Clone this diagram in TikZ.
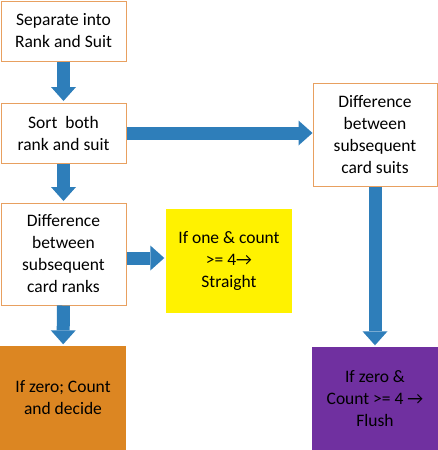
\documentclass[tikz,border=0pt]{standalone}
\usepackage{fontspec}
\setmainfont{Carlito}
\usetikzlibrary{arrows.meta}
\definecolor{arrowblue}{RGB}{46,126,186}
\definecolor{boxline}{RGB}{232,160,96}
\definecolor{zeroorange}{RGB}{220,134,34}
\definecolor{flushpurple}{RGB}{112,48,160}
\tikzset{
  step box/.style = {draw=boxline, line width=1pt, fill=white, align=center,
    inner sep=0pt, minimum width=125pt},
  result box/.style = {fill=#1, align=center, inner sep=0pt,
    minimum width=126pt, minimum height=104pt},
  flow/.style = {draw=arrowblue, line width=13pt,
    -{Triangle[width=25pt,length=14pt,line width=0pt]}, shorten >=1.5pt}
}
\newcommand{\rarr}{→}

\begin{document}
\begin{tikzpicture}[x=1pt,y=-1pt,font=\fontsize{17.5}{22}\selectfont]
    \useasboundingbox (0,0) rectangle (438,450);
    % left column
    \node[step box, minimum height=60pt] (sep) at (63.5,31) {Separate into\\Rank and Suit};
    \node[step box, minimum height=60pt] (sort) at (63.5,133) {Sort~~both\\rank and suit};
    \node[step box, minimum height=102pt] (ranks) at (63.5,254) {Difference\\between\\subsequent\\card ranks};
    \node[result box=zeroorange] (zero) at (63,398) {If zero; Count\\and decide};
    % middle and right
    \node[result box=yellow] (straight) at (229,261) {If one \& count\\>= 4\rarr\\Straight};
    \node[step box, minimum width=124pt, minimum height=103pt] (suits) at (375,134.5) {Difference\\between\\subsequent\\card suits};
    \node[result box=flushpurple, minimum height=103pt] (flush) at (375,398.5) {If zero \&\\Count >= 4 \rarr\\Flush};
    % arrows
    \draw[flow] (sep) -- (sort);
    \draw[flow] (sort) -- (ranks);
    \draw[flow] (ranks) -- (zero);
    \draw[flow, shorten >=0pt] (sort.east) -- (sort.east -| suits.west);
    \coordinate (rk) at ([yshift=-4pt]ranks.east);
    \draw[flow] (rk) -- (rk -| straight.west);
    \draw[flow] (suits) -- (flush);
\end{tikzpicture}
\end{document}
